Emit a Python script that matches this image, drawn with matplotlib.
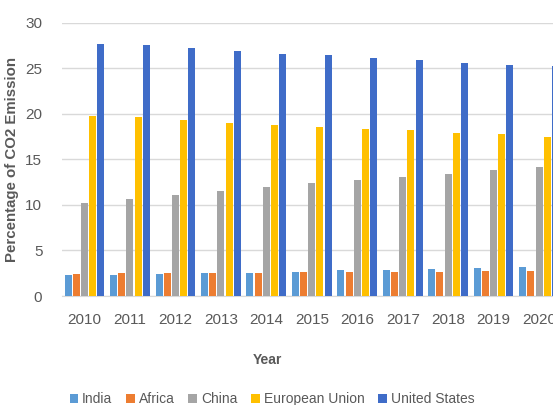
import matplotlib
matplotlib.use("Agg")
import matplotlib.pyplot as plt
import numpy as np

years = ["2010", "2011", "2012", "2013", "2014", "2015", "2016", "2017", "2018", "2019", "2020"]
series_names = ["India", "Africa", "China", "European Union", "United States"]
india = [2.35, 2.35, 2.45, 2.55, 2.55, 2.65, 2.8, 2.9, 3.0, 3.1, 3.2]
africa = [2.45, 2.55, 2.55, 2.55, 2.55, 2.65, 2.65, 2.65, 2.65, 2.75, 2.75]
china = [10.25, 10.7, 11.1, 11.55, 12.0, 12.45, 12.7, 13.05, 13.4, 13.8, 14.15]
eu = [19.8, 19.6, 19.3, 19.0, 18.8, 18.5, 18.3, 18.2, 17.85, 17.75, 17.5]
us = [27.7, 27.5, 27.2, 26.9, 26.6, 26.4, 26.1, 25.9, 25.6, 25.4, 25.2]
colors = ["#5B9BD5", "#ED7D31", "#A5A5A5", "#FFC000", "#3F6CC8"]

plt.rcParams['font.family'] = ['Liberation Sans', 'DejaVu Sans']
fig = plt.figure(figsize=(5.53, 4.05), dpi=100)
left_px, right_px = 61.8, 561.8
ax = fig.add_axes([left_px/553, 1-296/405, (right_px-left_px)/553, (296-22.7)/405])

x = np.arange(len(years))
step = 0.18
width = 0.154
data = [india, africa, china, eu, us]
for i, (vals, name, c) in enumerate(zip(data, series_names, colors)):
    ax.bar(x + (i - 2) * step, vals, width, color=c, label=name, zorder=3)

ax.set_xlim(-0.5, len(years) - 0.5)
ax.set_ylim(0, 30)
ax.set_yticks([0, 5, 10, 15, 20, 25, 30])
ax.set_xticks(x)
ax.set_xticklabels(years)
ax.grid(axis='y', color='#D9D9D9', linewidth=1, zorder=0)
for s in ['top', 'right', 'left']:
    ax.spines[s].set_visible(False)
ax.spines['bottom'].set_color('#D9D9D9')
ax.tick_params(axis='both', length=0, labelsize=11, colors='#595959')
ax.tick_params(axis='x', pad=12)
ax.tick_params(axis='y', pad=14)
ax.set_ylabel("Percentage of CO2 Emission", fontsize=10.8, fontweight='bold', color='#595959')
ax.yaxis.set_label_coords((19 - left_px) / (right_px - left_px), 0.5)
ax.set_xlabel("Year", fontsize=10, fontweight='bold', color='#595959')
ax.xaxis.set_label_coords((267 - left_px) / (right_px - left_px), -(360 - 296) / (296 - 22.7))
ax.xaxis.label.set_verticalalignment('center')
ax.legend(loc='center', bbox_to_anchor=(272/553, 1-399/405), bbox_transform=fig.transFigure,
          ncol=5, frameon=False, fontsize=10, handlelength=0.6, handleheight=0.6,
          handletextpad=0.3, columnspacing=1.0, labelcolor='#595959')

fig.savefig("out.png", dpi=100)
